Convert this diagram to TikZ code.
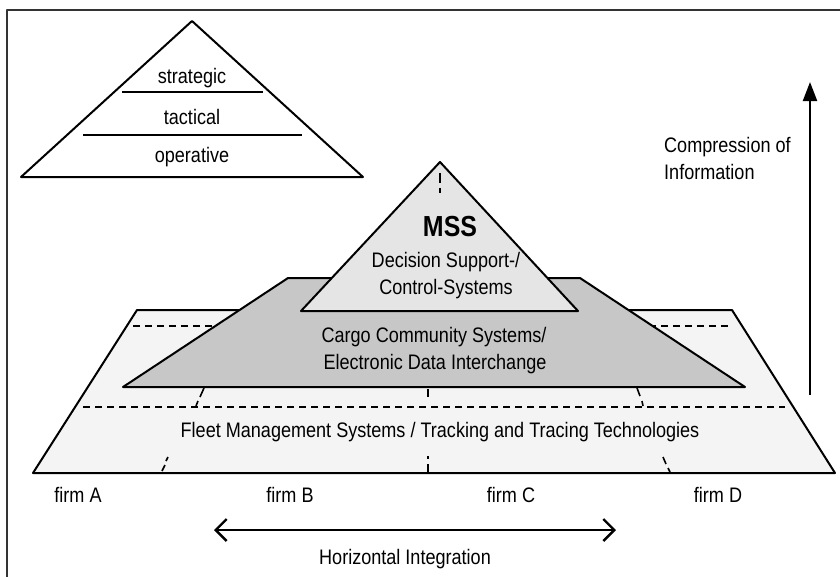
\documentclass[tikz,border=0pt]{standalone}
\usepackage{fontspec}
\setmainfont{Liberation Sans}[FakeStretch=0.86]
\usetikzlibrary{arrows.meta}
\definecolor{lightband}{gray}{0.955}
\definecolor{midband}{gray}{0.78}
\definecolor{topband}{gray}{0.9}
\begin{document}
\begin{tikzpicture}[x=1pt,y=-1pt, line join=round,
  outline/.style={draw=black, line width=2pt},
  lbl/.style={font=\fontsize{21}{24}\selectfont, inner sep=0pt, anchor=base},
  bandline/.style={draw=black, line width=2pt, dash pattern=on 7pt off 5pt},
  tickline/.style={draw=black, line width=1.6pt},
  arrowline/.style={draw=black, line width=2.2pt}]
\useasboundingbox (0,0) rectangle (840,576);
\fill[white] (0,0) rectangle (840,576);
\draw[line width=1.5pt, black!80] (841,10) -- (7,10) -- (7,577);

% small pyramid
\draw[outline] (21,177) -- (192,21) -- (363,177) -- cycle;
\draw[outline] (122,92) -- (263,92);
\draw[outline] (83,135) -- (302,135);
\node[lbl] (strat) at (192,83) {strategic};
\node[lbl] (tact) at (192,124) {tactical};
\node[lbl] (oper) at (192,162) {operative};

% base layer
\draw[outline, fill=lightband] (137,310) -- (732,310) -- (835,473) -- (33,473) -- cycle;
\draw[bandline] (133,326) -- (732,326);
\draw[bandline] (83,407) -- (785,407);
% firm separators
\draw[tickline] (204,388) -- (200,397);
\draw[tickline] (198,401) -- (196,406);
\draw[tickline] (168,457) -- (166,461);
\draw[tickline] (165,465) -- (162,471);
\draw[tickline] (428,389) -- (428,397);
\draw[tickline] (428,456) -- (428,459);
\draw[tickline] (428,464) -- (428,472);
\draw[tickline] (637,388) -- (640,396);
\draw[tickline] (642,401) -- (643,406);
\draw[tickline] (663,457) -- (666,464);
\draw[tickline] (668,468) -- (670,472);

% middle layer
\draw[outline, fill=midband] (288,278) -- (580,278) -- (745,387) -- (123,387) -- cycle;

% top layer
\draw[outline, fill=topband] (301,311) -- (440,162) -- (578,311) -- cycle;
\draw[tickline] (440,173) -- (440,183);
\draw[tickline] (440,188) -- (440,193);

\node[lbl, font=\fontsize{29}{32}\selectfont\bfseries] (mss) at (450,236) {MSS};
\node[lbl] (dss1) at (446,267) {Decision Support-/};
\node[lbl] (dss2) at (446,294) {Control-Systems};
\node[lbl] (ccs1) at (434,342) {Cargo Community Systems/};
\node[lbl] (ccs2) at (435,369) {Electronic Data Interchange};
\node[lbl] (fleet) at (440,437) {Fleet Management Systems / Tracking and Tracing Technologies};

% firms
\node[lbl] (firmA) at (78,502) {firm A};
\node[lbl] (firmB) at (290,502) {firm B};
\node[lbl] (firmC) at (511,502) {firm C};
\node[lbl] (firmD) at (718,502) {firm D};

% horizontal arrow
\coordinate (hl) at (214,530);
\coordinate (hr) at (616,530);
\draw[arrowline, {Straight Barb[length=11pt,width=22pt,line width=2.4pt]}-{Straight Barb[length=11pt,width=22pt,line width=2.4pt]}] (hl) -- (hr);
\node[lbl] (hint) at (405,564) {Horizontal Integration};

% vertical arrow
\coordinate (vb) at (810,395);
\coordinate (vt) at (810,82);
\draw[arrowline, -{Triangle[length=19pt,width=14pt]}] (vb) -- (vt);
\node[lbl, anchor=base west] (comp1) at (664,152) {Compression of};
\node[lbl, anchor=base west] (comp2) at (664,179) {Information};
\end{tikzpicture}
\end{document}
